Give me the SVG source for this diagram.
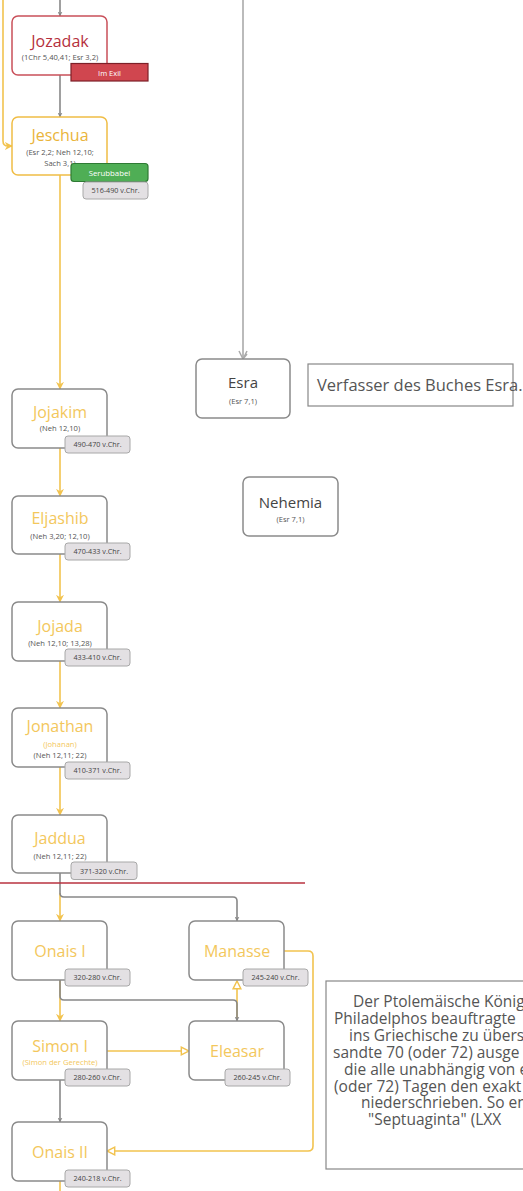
<svg xmlns="http://www.w3.org/2000/svg" width="523" height="1191" viewBox="0 0 523 1191">
<defs>
<style>
.node{fill:#fff;stroke:#8a8a8a;stroke-width:1.5}
.t{font-family:"Open Sans","Noto Sans",sans-serif;text-anchor:middle}
.title{font-size:16px;fill:#f3c75c}
.sub{font-size:7.6px;fill:#555}
.subY{font-size:7.6px;fill:#f3c75c}
.date{fill:#e3e0e3;stroke:#a8a8a8;stroke-width:1}
.dt{font-size:7.2px;fill:#444}
.g{fill:none;stroke:#888;stroke-width:1.6}
.y{fill:none;stroke:#f2c34f;stroke-width:1.6}
.lg{fill:none;stroke:#bbb;stroke-width:2}
.note{fill:#fff;stroke:#888;stroke-width:1.2}
.nt{font-family:"Open Sans","Noto Sans",sans-serif;fill:#555}
</style>
<marker id="ag" viewBox="0 0 10 10" refX="9" refY="5" markerWidth="5" markerHeight="5" orient="auto" markerUnits="userSpaceOnUse"><path d="M0,0 L10,5 L0,10 L3,5 z" fill="#888"/></marker>
<marker id="ay" viewBox="0 0 10 10" refX="9" refY="5" markerWidth="5" markerHeight="5" orient="auto"><path d="M0,0 L10,5 L0,10 L3,5 z" fill="#f2c34f"/></marker>
<marker id="oy" viewBox="0 0 10 10" refX="9" refY="5" markerWidth="6" markerHeight="6" orient="auto"><path d="M1,1 L9,5 L1,9 z" fill="#fff" stroke="#f2c34f" stroke-width="1.5"/></marker>
<marker id="cg" viewBox="0 0 10 10" refX="9" refY="5" markerWidth="5" markerHeight="5" orient="auto"><path d="M1,1 L9,5 L1,9 M4,1 L9,5" fill="none" stroke="#aaa" stroke-width="1.5"/></marker>
</defs>
<g id="connectors">
<path class="g" d="M60,0 V16" marker-end="url(#ag)"/>
<path class="g" d="M60,75 V117" marker-end="url(#ag)"/>
<path class="y" d="M3,0 V141 Q3,146 8,146 H12" marker-end="url(#ay)"/>
<path class="y" d="M60,175 V389" marker-end="url(#ay)"/>
<path class="lg" d="M243,0 V359" marker-end="url(#cg)"/>
<path class="y" d="M60,448 V496" marker-end="url(#ay)"/>
<path class="y" d="M60,554 V602" marker-end="url(#ay)"/>
<path class="y" d="M60,661 V708" marker-end="url(#ay)"/>
<path class="y" d="M60,767 V815" marker-end="url(#ay)"/>
<path class="y" d="M60,893 V921" marker-end="url(#ay)"/>
<path class="g" d="M60,873 V893 Q60,897 64,897 H233 Q237,897 237,901 V921" marker-end="url(#ag)"/>
<line x1="0" y1="883" x2="305" y2="883" stroke="#b8323f" stroke-width="1.3"/>
<path class="y" d="M60,980 V1021" marker-end="url(#ay)"/>
<path class="y" d="M237,1021 V981" marker-end="url(#oy)"/>
<path class="g" d="M60,980 V996 Q60,1000 64,1000 H233 Q237,1000 237,1004 V1021" marker-end="url(#ag)"/>
<path class="y" d="M107,1051 H189" marker-end="url(#oy)"/>
<path class="y" d="M284,951 H308 Q313,951 313,956 V1146 Q313,1151 308,1151 H107" marker-end="url(#oy)"/>
<path class="g" d="M60,1080 V1122" marker-end="url(#ag)"/>
<path class="y" d="M60,1181 V1191"/>
</g>
<g id="jozadak">
<rect x="12" y="16" width="95" height="59" rx="6" fill="#fff" stroke="#c9505a" stroke-width="1.5"/>
<text class="t" x="60" y="47" font-size="16" fill="#b5303c">Jozadak</text>
<text class="t sub" x="60" y="59.5">(1Chr 5,40,41; Esr 3,2)</text>
<rect x="71" y="63.5" width="77" height="17.5" fill="#d0464f" stroke="#7d2028" stroke-width="1.2"/>
<text class="t" x="109.5" y="75.5" font-size="7.5" fill="#fff">Im Exil</text>
</g>
<g id="jeschua">
<rect x="12" y="117" width="95" height="58" rx="6" fill="#fff" stroke="#f0bd45" stroke-width="1.5"/>
<text class="t" x="60" y="141" font-size="16" fill="#eab43a">Jeschua</text>
<text class="t sub" x="60" y="155">(Esr 2,2; Neh 12,10;</text>
<text class="t sub" x="60" y="165.5">Sach 3,1)</text>
<rect x="71" y="163.5" width="77" height="18" rx="3" fill="#4fae55" stroke="#2f7a34" stroke-width="1.2"/>
<text class="t" x="109.5" y="175.5" font-size="7.8" fill="#fff">Serubbabel</text>
<rect class="date" x="83" y="182" width="65" height="17" rx="3"/>
<text class="t dt" x="115.5" y="193">516-490 v.Chr.</text>
</g>
<g id="esra">
<rect class="node" x="196" y="359" width="94" height="59" rx="6"/>
<text class="t" x="243" y="388" font-size="15" fill="#444">Esra</text>
<text class="t sub" x="243" y="404">(Esr 7,1)</text>
</g>
<g id="esra-note">
<rect class="note" x="308" y="364" width="205" height="42"/>
<text class="nt" x="317" y="391" font-size="16.5">Verfasser des Buches Esra.</text>
</g>
<g id="nehemia">
<rect class="node" x="243" y="477" width="95" height="59" rx="6"/>
<text class="t" x="290.5" y="508" font-size="15" fill="#444">Nehemia</text>
<text class="t sub" x="290.5" y="522">(Esr 7,1)</text>
</g>
<g id="jojakim">
<rect class="node" x="12" y="389" width="95" height="59" rx="6"/>
<text class="t title" x="60" y="418">Jojakim</text>
<text class="t sub" x="60" y="431">(Neh 12,10)</text>
<rect class="date" x="65" y="436" width="65" height="17" rx="3"/>
<text class="t dt" x="97.5" y="447">490-470 v.Chr.</text>
</g>
<g id="eljashib">
<rect class="node" x="12" y="496" width="95" height="58" rx="6"/>
<text class="t title" x="60" y="524">Eljashib</text>
<text class="t sub" x="60" y="538.5">(Neh 3,20; 12,10)</text>
<rect class="date" x="65" y="543" width="65" height="17" rx="3"/>
<text class="t dt" x="97.5" y="554">470-433 v.Chr.</text>
</g>
<g id="jojada">
<rect class="node" x="12" y="602" width="95" height="59" rx="6"/>
<text class="t title" x="60" y="632">Jojada</text>
<text class="t sub" x="60" y="645.5">(Neh 12,10; 13,28)</text>
<rect class="date" x="65" y="649" width="65" height="17" rx="3"/>
<text class="t dt" x="97.5" y="660">433-410 v.Chr.</text>
</g>
<g id="jonathan">
<rect class="node" x="12" y="708" width="95" height="59" rx="6"/>
<text class="t title" x="60" y="732">Jonathan</text>
<text class="t subY" x="60" y="746.5" font-size="8.5">(Johanan)</text>
<text class="t sub" x="60" y="758">(Neh 12,11; 22)</text>
<rect class="date" x="65" y="762" width="65" height="17" rx="3"/>
<text class="t dt" x="97.5" y="773">410-371 v.Chr.</text>
</g>
<g id="jaddua">
<rect class="node" x="12" y="815" width="95" height="58" rx="6"/>
<text class="t title" x="60" y="844">Jaddua</text>
<text class="t sub" x="60" y="858.5">(Neh 12,11; 22)</text>
<rect class="date" x="71" y="862" width="66" height="17.5" rx="3"/>
<text class="t dt" x="104" y="873.5">371-320 v.Chr.</text>
</g>
<g id="onais1">
<rect class="node" x="12" y="921" width="95" height="59" rx="6"/>
<text class="t title" x="60" y="957">Onais I</text>
<rect class="date" x="65" y="969" width="65" height="17" rx="3"/>
<text class="t dt" x="97.5" y="980">320-280 v.Chr.</text>
</g>
<g id="manasse">
<rect class="node" x="189" y="921" width="95" height="59" rx="6"/>
<text class="t title" x="237" y="957">Manasse</text>
<rect class="date" x="243" y="969" width="65" height="17" rx="3"/>
<text class="t dt" x="275.5" y="980">245-240 v.Chr.</text>
</g>
<g id="simon1">
<rect class="node" x="12" y="1021" width="95" height="59" rx="6"/>
<text class="t title" x="60" y="1052">Simon I</text>
<text class="t subY" x="60" y="1065">(Simon der Gerechte)</text>
<rect class="date" x="65" y="1069" width="65" height="17" rx="3"/>
<text class="t dt" x="97.5" y="1080">280-260 v.Chr.</text>
</g>
<g id="eleasar">
<rect class="node" x="189" y="1021" width="95" height="59" rx="6"/>
<text class="t title" x="237" y="1057">Eleasar</text>
<rect class="date" x="225" y="1069" width="65" height="17" rx="3"/>
<text class="t dt" x="257.5" y="1080">260-245 v.Chr.</text>
</g>
<g id="onais2">
<rect class="node" x="12" y="1122" width="95" height="59" rx="6"/>
<text class="t title" x="60" y="1158">Onais II</text>
<rect class="date" x="65" y="1170" width="65" height="17" rx="3"/>
<text class="t dt" x="97.5" y="1181">240-218 v.Chr.</text>
</g>
<g id="lxx-note">
<rect class="note" x="326" y="981" width="220" height="188"/>
<text class="nt" font-size="15.5"><tspan x="353" y="1007">Der Ptolemäische König</tspan><tspan x="334" y="1024">Philadelphos beauftragte</tspan><tspan x="349" y="1041">ins Griechische zu übers</tspan><tspan x="333" y="1058">sandte 70 (oder 72) ausge</tspan><tspan x="344" y="1075">die alle unabhängig von e</tspan><tspan x="334" y="1092">(oder 72) Tagen den exakt</tspan><tspan x="361" y="1108">niederschrieben. So en</tspan><tspan x="368" y="1125">"Septuaginta"  (LXX</tspan></text>
</g>
</svg>
